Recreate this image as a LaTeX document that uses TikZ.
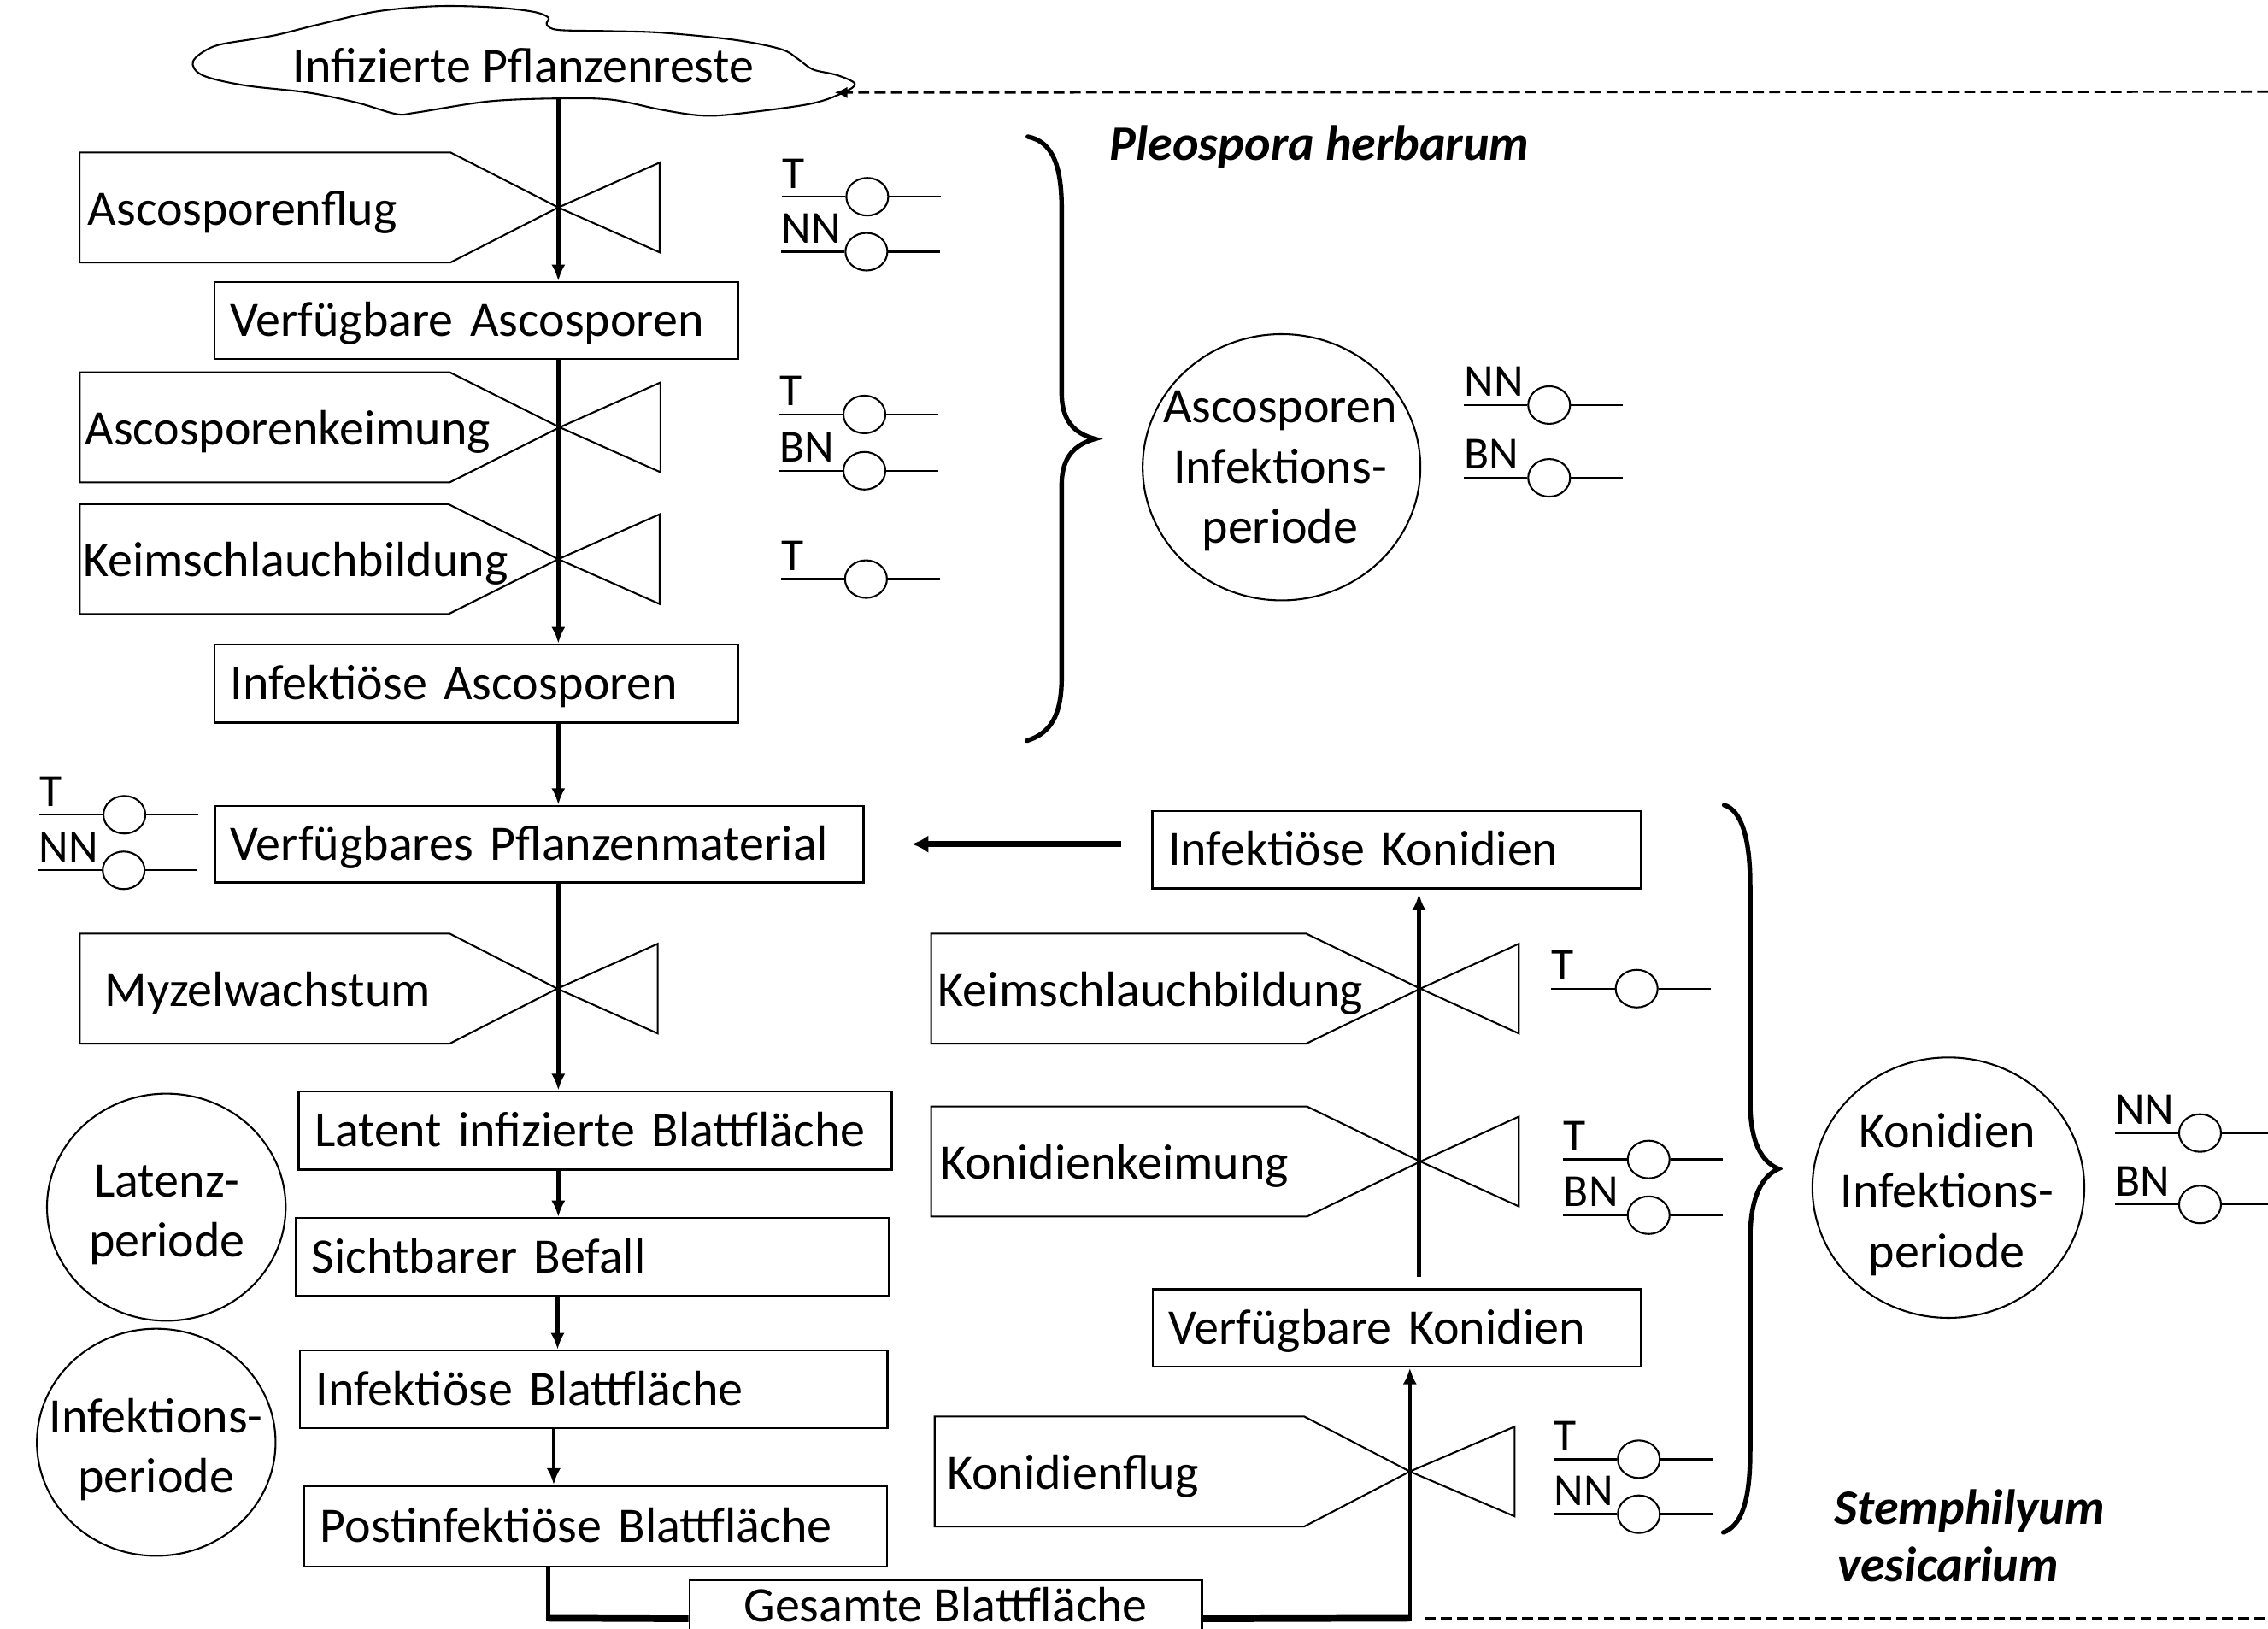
\documentclass[tikz,border=0pt]{standalone}
\usepackage{fontspec}
\setmainfont{Carlito}
\usepackage{graphicx}
\usetikzlibrary{arrows.meta,shapes.geometric}
\newcommand\myvalve[8]{% name, cx, cy, Lx, tipoff, tridx, textx, text
  \draw[vline] (#4,#3-38) -- (#2-#5,#3-38) -- (#2,#3) -- (#2-#5,#3+38) -- (#4,#3+38) -- cycle;
  \draw[vline] (#2,#3) -- (#2+#6,#3-31) -- (#2+#6,#3+31) -- cycle;
  \node[vtext] (#1) at (#7-1.5,#3+12) {#8};
}
\newcommand\mysensor[4]{% name, x0, y, label
  \coordinate (#1-a) at (#2,#3);
  \node[scirc] (#1-c) at (#2+59,#3) {};
  \coordinate (#1-b) at (#2+110,#3);
  \draw[sline] (#1-a) -- (#1-c);
  \draw[sline] (#1-c) -- (#1-b);
  \node[slabel] (#1-l) at (#2,#3-6) {#4};
}
\begin{document}
\begin{tikzpicture}[x=0.02cm, y=-0.02cm, font=\fontsize{19.5}{23.6}\selectfont,
  box/.style={draw, line width=0.8pt, inner xsep=0.22cm, inner ysep=0pt, align=left, text height=12.5pt, text depth=0pt},
  vline/.style={line width=0.7pt, line join=miter},
  vtext/.style={anchor=base west, inner sep=0pt},
  arr/.style={line width=1.5pt, -{Latex[length=6.5pt,width=5.5pt]}},
  thk/.style={line width=2.6pt},
  thkarr/.style={line width=2.2pt, -{Latex[length=6.5pt,width=7pt]}},
  dsh/.style={line width=0.9pt, dash pattern=on 4.3pt off 2.1pt},
  brace/.style={line width=1.8pt, line cap=round},
  oval/.style 2 args={draw, ellipse, line width=0.7pt, inner sep=0pt, minimum width={#1*0.02cm}, minimum height={#2*0.02cm}},
  etext/.style={align=center, inner sep=0pt},
  scirc/.style={draw, ellipse, line width=0.7pt, inner sep=0pt, minimum width=0.58cm, minimum height=0.52cm},
  sline/.style={line width=0.8pt},
  slabel/.style={anchor=base west, inner sep=0pt, font=\fontsize{18}{20}\selectfont},
  spec/.style={anchor=base west, inner sep=0pt, font=\fontsize{19.5}{23.6}\selectfont\bfseries\itshape},
]
\useasboundingbox (0,0) rectangle (1568,1126);
\clip (0,0) rectangle (1568,1126);

% cloud
\draw[line width=0.7pt] plot[smooth cycle, tension=0.55] coordinates {
 (133.5,42.3) (148,32) (175,27) (192,24) (220,17) (260,8) (301,4.3) (340,5) (368,8) (379,12) (378,17) (386,20.7)
 (420,21.5) (457,22.6) (508,27.6) (540,34) (552,41) (562,48) (579,52) (591,58) (582,64.5) (559,72) (508,78.8)
 (484.5,79.8) (457,75.8) (423.6,69) (389.5,68) (338.6,70) (287.7,77.8) (274,78.8) (247,71) (213,64) (169,59) (140,52)};
\node[anchor=base, inner sep=0pt] (cloud) at (362,57) {Infizierte Pflanzenreste};
\coordinate (cloudB) at (386,68);
\coordinate (cloudR) at (577,64);
\coordinate (topR) at (1568,63.4);
\draw[dsh, -{Latex[length=5pt,width=4.5pt]}] (topR) -- (cloudR);

% boxes
\node[box, text width=6.80cm, minimum height=1.06cm] (va) at (329.3,221.5) {Verfügbare Ascosporen};
\node[box, text width=6.80cm, minimum height=1.08cm] (ia) at (329.3,472.5) {Infektiöse Ascosporen};
\node[box, text width=8.53cm, minimum height=1.06cm] (vp) at (372.7,583.5) {Verfügbares Pflanzenmaterial};
\node[box, text width=7.76cm, minimum height=1.08cm] (lb) at (411.5,781.4) {Latent infizierte Blattfläche};
\node[box, text width=7.76cm, minimum height=1.08cm] (sb) at (409.5,869) {Sichtbarer Befall};
\node[box, text width=7.68cm, minimum height=1.07cm] (ib) at (410.5,960.3) {Infektiöse Blattfläche};
\node[box, text width=7.62cm, minimum height=1.116cm] (pb) at (411.9,1055) {Postinfektiöse Blattfläche};
\node[draw, line width=0.8pt, inner sep=0pt, minimum width=7.088cm, minimum height=1.08cm] (gb) at (653.8,1119) {};
\node[anchor=base, inner sep=0pt] (gbt) at (653.8,1121) {Gesamte Blattfläche};
\node[box, text width=6.32cm, minimum height=1.066cm] (ik) at (965.7,587.4) {Infektiöse Konidien};
\node[box, text width=6.308cm, minimum height=1.072cm] (vk) at (965.7,918) {Verfügbare Konidien};

% valves
\myvalve{v1}{386}{143.4}{55}{74.5}{70}{62}{Ascosporenflug}
\myvalve{v2}{387}{295.4}{55.2}{76}{69.6}{59.9}{Ascosporenkeimung}
\myvalve{v3}{386}{386.5}{55.2}{76}{70}{58.5}{Keimschlauchbildung}
\myvalve{v4}{385.3}{683.4}{55.1}{74.4}{69.4}{73.8}{Myzelwachstum}
\myvalve{v5}{982}{683.4}{643.7}{79}{68}{649.7}{Keimschlauchbildung}
\myvalve{v6}{982}{802.9}{643.7}{78.3}{68}{651.2}{Konidienkeimung}
\myvalve{v7}{974.7}{1017.2}{646.2}{73}{72.4}{655.8}{Konidienflug}

% main flow
\coordinate (ax) at (386,0);
\coordinate (ax2) at (385.5,0);
\coordinate (ax3) at (382.8,0);
\draw[arr] (cloudB) -- (va.north -| ax);
\draw[arr] (va.south -| ax) -- (ia.north -| ax);
\draw[arr] (ia.south -| ax) -- (vp.north -| ax);
\draw[arr] (vp.south -| ax) -- (lb.north -| ax);
\draw[arr] (lb.south -| ax) -- (sb.north -| ax);
\draw[arr] (sb.south -| ax2) -- (ib.north -| ax2);
\draw[arr] (ib.south -| ax3) -- (pb.north -| ax3);
\coordinate (c1) at (379,1118.6);
\coordinate (c2) at (974.7,1118.6);
\draw[line width=1.5pt, shorten >=-1.3pt] (pb.south -| c1) -- (c1);
\draw[thk] (c1) -- (gb.west);
\draw[thk] (gb.east) -- (c2);
\draw[arr, shorten <=-1.3pt] (c2) -- (vk.south -| c2);
\coordinate (kx) at (981,0);
\draw[arr, shorten <=4.6pt, shorten >=1.7pt] (vk.north -| kx) -- (ik.south -| kx);
\draw[thkarr, shorten <=12pt, shorten >=18.7pt] (ik.west |- vp.east) -- (vp.east);
\coordinate (botL) at (985,1118.6);
\coordinate (botR) at (1568,1118.6);
\draw[dsh] (botL) -- (botR);

% ellipses
\node[oval={192}{184}] (e1) at (886,323) {};
\node[etext] (e1t) at (885,325.6) {Ascosporen\\Infektions-\\periode};
\node[oval={188}{180}] (e2) at (1347,821) {};
\node[etext] (e2t) at (1346,825.6) {Konidien\\Infektions-\\periode};
\node[oval={165}{157}] (e3) at (115,834.5) {};
\node[etext] (e3t) at (115.5,840) {Latenz-\\periode};
\node[oval={165}{157}] (e4) at (108,997) {};
\node[etext] (e4t) at (108,1002) {Infektions-\\periode};

% braces
\draw[brace] (710.6,94.5) .. controls (728,98) and (734,115) .. (734,145) -- (734,272)
  .. controls (734,292) and (744,300) .. (757,303.4)
  .. controls (744,307) and (734,315) .. (734,335) -- (734,468)
  .. controls (734,495) and (726,507) .. (710,512);
\draw[brace] (1192,556.5) .. controls (1204,560) and (1210,580) .. (1210,612) -- (1210,762)
  .. controls (1210,790) and (1218,803) .. (1229.5,808)
  .. controls (1218,813) and (1210,828) .. (1210,856) -- (1210,1003)
  .. controls (1210,1040) and (1203,1055) .. (1191.4,1059.3);

% species labels
\node[spec] (ph) at (767,111) {Pleospora herbarum};
\node[spec] (sv1) at (1268,1053.6) {Stemphilyum};
\node[spec] (sv2) at (1270,1093) {vesicarium};

% sensors
\mysensor{s1}{540.6}{136}{T}
\mysensor{s2}{540}{174}{NN}
\mysensor{s3}{538.6}{286.5}{T}
\mysensor{s4}{538.6}{325.4}{BN}
\mysensor{s5}{539.7}{400.3}{T}
\mysensor{s6}{1012}{280}{NN}
\mysensor{s7}{1012}{330.3}{BN}
\mysensor{s8}{27}{563.2}{T}
\mysensor{s9}{26.5}{601.6}{NN}
\mysensor{s10}{1072.5}{683.4}{T}
\mysensor{s11}{1080.8}{801.5}{T}
\mysensor{s12}{1080.8}{840}{BN}
\mysensor{s13}{1074}{1008.7}{T}
\mysensor{s14}{1074}{1046.7}{NN}
\mysensor{s15}{1462}{783.2}{NN}
\mysensor{s16}{1462}{832.6}{BN}
\end{tikzpicture}
\end{document}
